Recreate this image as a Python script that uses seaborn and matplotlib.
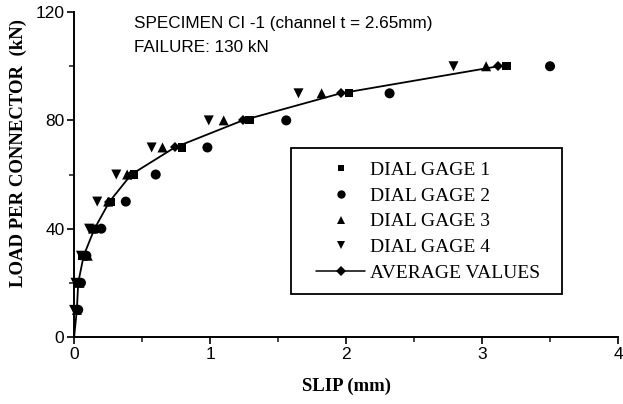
import matplotlib
matplotlib.use("Agg")
import matplotlib.pyplot as plt
import seaborn as sns
import pandas as pd
from matplotlib.lines import Line2D
from matplotlib.patches import Rectangle
from matplotlib.ticker import MultipleLocator

# ---- data ----
loads = [10, 20, 30, 40, 50, 60, 70, 80, 90, 100]
gage1_slip = [0.02, 0.03, 0.06, 0.16, 0.27, 0.44, 0.79, 1.29, 2.02, 3.18]
gage2_slip = [0.03, 0.05, 0.09, 0.20, 0.38, 0.60, 0.98, 1.56, 2.32, 3.50]
gage3_slip = [0.02, 0.04, 0.10, 0.14, 0.25, 0.39, 0.65, 1.10, 1.82, 3.03]
gage4_slip = [0.00, 0.01, 0.05, 0.11, 0.17, 0.31, 0.57, 0.99, 1.65, 2.79]
avg_loads = [0, 10, 20, 30, 40, 50, 60, 70, 80, 90, 100]
avg_slip = [0.0, 0.02, 0.03, 0.07, 0.15, 0.26, 0.42, 0.74, 1.24, 1.96, 3.12]

labels = ["DIAL GAGE 1", "DIAL GAGE 2", "DIAL GAGE 3", "DIAL GAGE 4", "AVERAGE VALUES"]
annot_lines = ["SPECIMEN CI -1 (channel t = 2.65mm)", "FAILURE: 130 kN"]
x_label = "SLIP (mm)"
y_label = "LOAD PER CONNECTOR  (kN)"

sns.set_theme(style="ticks")
plt.rcParams["font.family"] = ["Liberation Sans", "DejaVu Sans"]

fig = plt.figure(figsize=(6.23, 4.04), dpi=100)
ax = fig.add_axes([0.119, 0.166, 0.873, 0.804])

gauges = [
    (gage1_slip, "s", 34),
    (gage2_slip, "o", 52),
    (gage3_slip, "^", 52),
    (gage4_slip, "v", 52),
]
for slips, mk, size in gauges:
    df = pd.DataFrame({"slip": slips, "load": loads})
    sns.scatterplot(data=df, x="slip", y="load", marker=mk, s=size, color="black",
                    edgecolor="none", linewidth=0, ax=ax, legend=False, clip_on=False,
                    zorder=3)

dfa = pd.DataFrame({"slip": avg_slip, "load": avg_loads})
sns.lineplot(data=dfa, x="slip", y="load", sort=False, color="black", linewidth=1.3,
             marker="D", markersize=5.5, markeredgewidth=0,
             markevery=list(range(1, len(avg_slip))), ax=ax, zorder=4)

ax.set_xlim(0, 4)
ax.set_ylim(0, 120)
ax.xaxis.set_major_locator(MultipleLocator(1))
ax.xaxis.set_minor_locator(MultipleLocator(0.5))
ax.yaxis.set_major_locator(MultipleLocator(40))
ax.yaxis.set_minor_locator(MultipleLocator(20))
ax.tick_params(which="major", direction="out", length=5, width=1.2, labelsize=12.5,
               pad=2, colors="black")
ax.tick_params(which="minor", direction="out", length=3.5, width=1.2)
sns.despine(ax=ax)
for sp in ("left", "bottom"):
    ax.spines[sp].set_linewidth(1.4)
    ax.spines[sp].set_color("black")

ax.set_xlabel(x_label, fontfamily="Liberation Serif", fontweight="bold", fontsize=13.5,
              color="black")
ax.set_ylabel(y_label, fontfamily="Liberation Serif", fontweight="bold", fontsize=13.5,
              color="black")
ax.xaxis.set_label_coords(0.5, -0.125)
ax.yaxis.label.set_va("center")
ax.yaxis.set_label_coords(-0.103, 0.565)

ax.text(0.110, 0.951, annot_lines[0], transform=ax.transAxes, fontsize=12.3,
        va="baseline", ha="left", color="black")
ax.text(0.110, 0.877, annot_lines[1], transform=ax.transAxes, fontsize=12.3,
        va="baseline", ha="left", color="black")

# legend
handles = [
    Line2D([], [], marker="s", ls="none", color="black", markersize=5, markeredgewidth=0),
    Line2D([], [], marker="o", ls="none", color="black", markersize=6, markeredgewidth=0),
    Line2D([], [], marker="^", ls="none", color="black", markersize=6, markeredgewidth=0),
    Line2D([], [], marker="v", ls="none", color="black", markersize=6, markeredgewidth=0),
    Line2D([], [], marker="D", color="black", lw=1.1, markersize=5, markeredgewidth=0),
]
leg = ax.legend(handles, labels, loc="center", bbox_to_anchor=(0.651, 0.355),
                frameon=False, prop={"family": "Liberation Serif", "size": 14},
                handlelength=2.5, handletextpad=0.25, labelspacing=0.42,
                borderaxespad=0, borderpad=0)
for t in leg.get_texts():
    t.set_color("black")
ax.add_patch(Rectangle((0.399, 0.1323), 0.498, 0.449, transform=ax.transAxes,
                       fill=False, edgecolor="black", linewidth=1.3, zorder=5))

fig.savefig("out.png", dpi=100)
